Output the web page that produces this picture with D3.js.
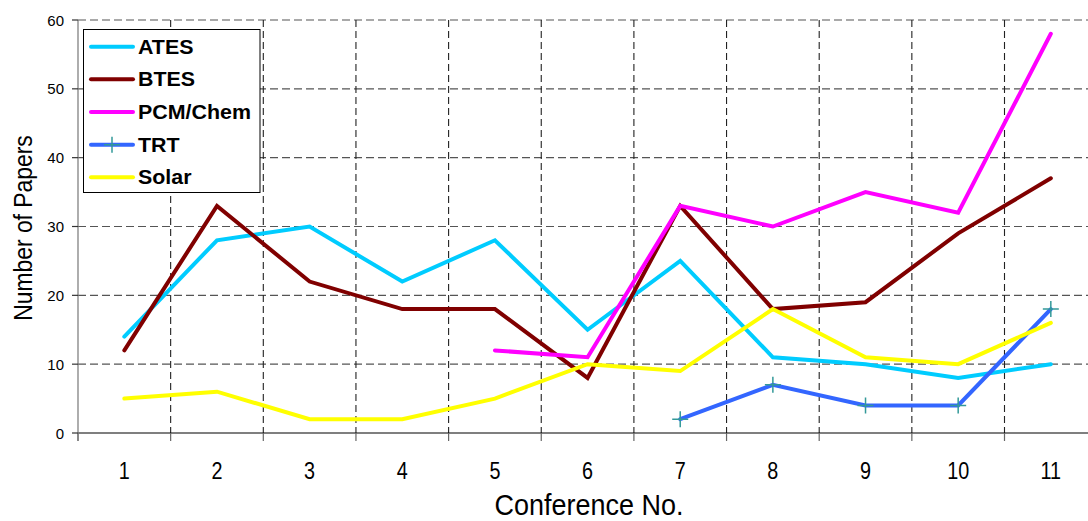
<!DOCTYPE html>
<html>
<head>
<meta charset="utf-8">
<script src="https://cdn.jsdelivr.net/npm/d3@7"></script>
<style>
  html, body { margin: 0; padding: 0; background: #fff; }
  svg { display: block; }
</style>
</head>
<body>
<svg id="chart" width="1088" height="521"></svg>
<script>
// Conference numbers and paper counts per storage topic
const conferences = ["1", "2", "3", "4", "5", "6", "7", "8", "9", "10", "11"];
const seriesNames = ["ATES", "BTES", "PCM/Chem", "TRT", "Solar"];
const ates    = [14, 28, 30, 22, 28, 15, 25, 11, 10, 8, 10];
const btes    = [12, 33, 22, 18, 18, 8, 33, 18, 19, 29, 37];
const pcmChem = [null, null, null, null, 12, 11, 33, 30, 35, 32, 58];
const trt     = [null, null, null, null, null, null, 2, 7, 4, 4, 18];
const solar   = [5, 6, 2, 2, 5, 10, 9, 18, 11, 10, 16];
const yTicks  = [0, 10, 20, 30, 40, 50, 60];

const seriesColors = ["#00CCFF", "#800000", "#FF00FF", "#3366FF", "#FFFF00"];
const series = [ates, btes, pcmChem, trt, solar].map((values, i) => ({
  name: seriesNames[i], values, color: seriesColors[i], marker: seriesNames[i] === "TRT"
}));

const svg = d3.select("#chart");
const plotLeft = 78, plotTop = 20, plotBottom = 433;
const band = 92.65;
const plotRight = plotLeft + band * conferences.length;
const sans = "'Liberation Sans', Arial, sans-serif";

const x = d3.scaleBand().domain(conferences).range([plotLeft, plotRight]);
const y = d3.scaleLinear().domain([0, 60]).range([plotBottom, plotTop]);

// horizontal grid
svg.append("g").selectAll("line").data(yTicks.filter(d => d > 0)).join("line")
  .attr("x1", plotLeft).attr("x2", 1088)
  .attr("y1", d => y(d)).attr("y2", d => y(d))
  .attr("stroke", "#555").attr("stroke-width", 1.2)
  .attr("stroke-dasharray", "8,4");

// vertical grid at category boundaries
const bounds = conferences.slice(1).map(c => x(c));
svg.append("g").selectAll("line").data(bounds).join("line")
  .attr("x1", d => d).attr("x2", d => d)
  .attr("y1", plotTop).attr("y2", plotBottom)
  .attr("stroke", "#222").attr("stroke-width", 1.1)
  .attr("stroke-dasharray", "7,4");

// x axis
const xAxis = svg.append("g").attr("transform", `translate(0,${plotBottom})`);
xAxis.append("line").attr("x1", plotLeft).attr("x2", 1088).attr("y1", 0).attr("y2", 0)
  .attr("stroke", "#000").attr("stroke-width", 1.2);
xAxis.selectAll("line.tk").data([plotLeft, ...bounds]).join("line").attr("class", "tk")
  .attr("x1", d => d).attr("x2", d => d).attr("y1", 0).attr("y2", 8)
  .attr("stroke", "#666").attr("stroke-width", 1.2);
// condensed tick labels
xAxis.selectAll("text").data(conferences).join("text")
  .attr("transform", d => `translate(${x(d) + x.bandwidth() / 2},46) scale(0.86,1)`)
  .attr("text-anchor", "middle")
  .attr("font-family", sans)
  .attr("font-size", 23).attr("fill", "#000").text(d => d);

// y axis
const yAxis = svg.append("g");
yAxis.append("line").attr("x1", plotLeft).attr("x2", plotLeft).attr("y1", plotTop).attr("y2", plotBottom + 8)
  .attr("stroke", "#777").attr("stroke-width", 1.2);
yAxis.selectAll("line.tk").data(yTicks).join("line").attr("class", "tk")
  .attr("x1", plotLeft - 6).attr("x2", plotLeft).attr("y1", d => y(d)).attr("y2", d => y(d))
  .attr("stroke", "#333").attr("stroke-width", 1.2);
yAxis.selectAll("text").data(yTicks).join("text")
  .attr("x", 64).attr("y", d => y(d) + 5.5)
  .attr("text-anchor", "end")
  .attr("font-family", sans)
  .attr("font-size", 15).attr("fill", "#000").text(d => d);

// axis titles (condensed)
svg.append("text")
  .attr("transform", `translate(32,228) rotate(-90) scale(0.88,1)`)
  .attr("text-anchor", "middle")
  .attr("font-family", sans)
  .attr("font-size", 26).attr("fill", "#000").text("Number of Papers");
svg.append("text")
  .attr("transform", `translate(589,515) scale(0.93,1)`)
  .attr("text-anchor", "middle")
  .attr("font-family", sans)
  .attr("font-size", 29).attr("fill", "#000").text("Conference No.");

// series lines
const line = d3.line()
  .defined(d => d.v !== null)
  .x(d => x(d.c) + x.bandwidth() / 2)
  .y(d => y(d.v));

const plot = svg.append("g");
series.forEach(s => {
  const pts = s.values.map((v, i) => ({ c: conferences[i], v }));
  plot.append("path").datum(pts)
    .attr("d", line)
    .attr("fill", "none").attr("stroke", s.color).attr("stroke-width", 4)
    .attr("stroke-linejoin", "miter").attr("stroke-linecap", "round");
  if (s.marker) {
    const m = plot.append("g");
    pts.filter(p => p.v !== null).forEach(p => {
      const cx = x(p.c) + x.bandwidth() / 2, cy = y(p.v);
      m.append("path").attr("d", `M${cx - 8},${cy}H${cx + 8}M${cx},${cy - 8}V${cy + 8}`)
        .attr("stroke", "#339999").attr("stroke-width", 1.5).attr("fill", "none");
    });
  }
});

// legend
const lg = svg.append("g");
lg.append("rect").attr("x", 83.5).attr("y", 29.5).attr("width", 176.5).attr("height", 163)
  .attr("fill", "#fff").attr("stroke", "#000").attr("stroke-width", 1);
series.forEach((s, i) => {
  const ly = 46.7 + i * 32.65;
  lg.append("line").attr("x1", 91).attr("x2", 133).attr("y1", ly).attr("y2", ly)
    .attr("stroke", s.color).attr("stroke-width", 4).attr("stroke-linecap", "round");
  if (s.marker) {
    lg.append("path").attr("d", `M${104},${ly}H${120}M${112},${ly - 8}V${ly + 8}`)
      .attr("stroke", "#339999").attr("stroke-width", 1.5);
  }
  lg.append("text").attr("transform", `translate(138,${ly + 7}) scale(1.07,1)`)
    .attr("font-family", sans)
    .attr("font-weight", "bold").attr("font-size", 20).attr("fill", "#000")
    .text(s.name);
});
</script>
</body>
</html>
